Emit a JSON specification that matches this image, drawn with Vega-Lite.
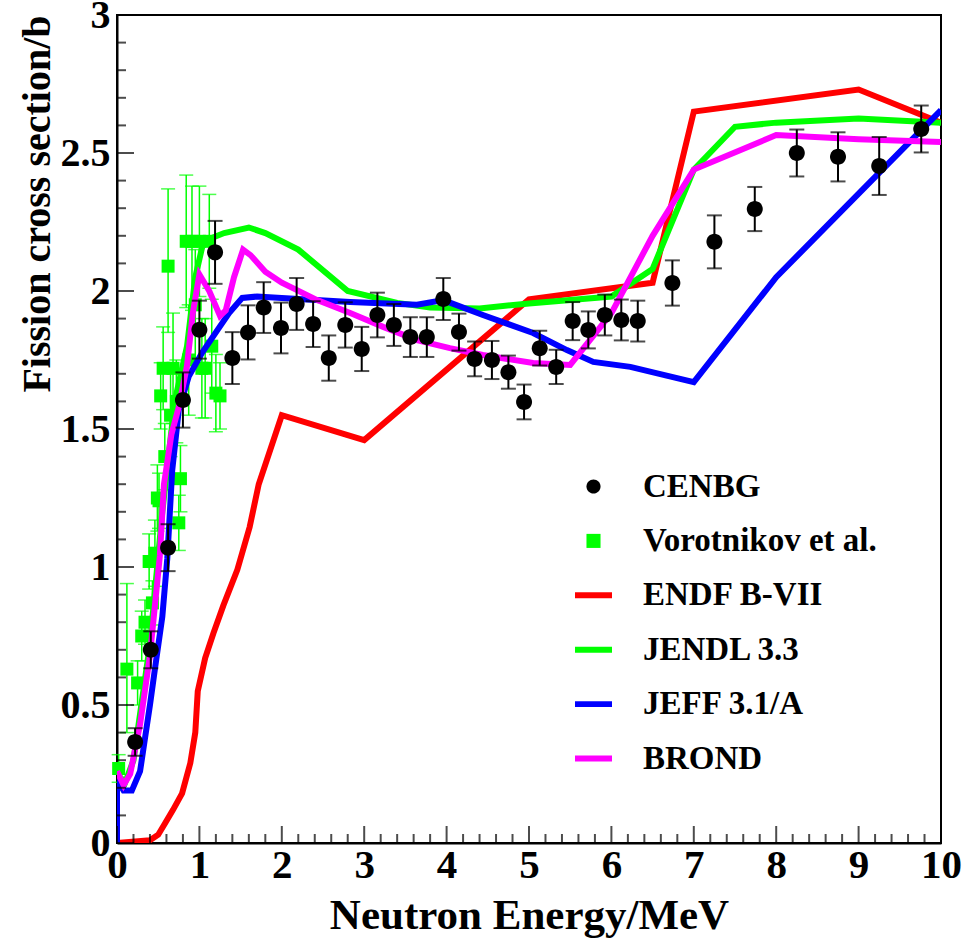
{
 "$schema": "https://vega.github.io/schema/vega-lite/v6.json",
 "width": 824, "height": 828,
 "autosize": {"type": "none"},
 "padding": {"left": 117, "top": 15, "right": 27, "bottom": 97},
 "background": "white",
 "config": {"view": {"stroke": "black", "strokeWidth": 2}, "font": "Liberation Serif"},
 "datasets": {
  "xmajor": [{"v":0},{"v":1},{"v":2},{"v":3},{"v":4},{"v":5},{"v":6},{"v":7},{"v":8},{"v":9},{"v":10}],
  "xminor": [{"v":0.2},{"v":0.4},{"v":0.6},{"v":0.8},{"v":1.2},{"v":1.4},{"v":1.6},{"v":1.8},{"v":2.2},{"v":2.4},{"v":2.6},{"v":2.8},{"v":3.2},{"v":3.4},{"v":3.6},{"v":3.8},{"v":4.2},{"v":4.4},{"v":4.6},{"v":4.8},{"v":5.2},{"v":5.4},{"v":5.6},{"v":5.8},{"v":6.2},{"v":6.4},{"v":6.6},{"v":6.8},{"v":7.2},{"v":7.4},{"v":7.6},{"v":7.8},{"v":8.2},{"v":8.4},{"v":8.6},{"v":8.8},{"v":9.2},{"v":9.4},{"v":9.6},{"v":9.8}],
  "ymajor": [{"v":0},{"v":0.5},{"v":1},{"v":1.5},{"v":2},{"v":2.5},{"v":3}],
  "yminor": [{"v":0.1},{"v":0.2},{"v":0.3},{"v":0.4},{"v":0.6},{"v":0.7},{"v":0.8},{"v":0.9},{"v":1.1},{"v":1.2},{"v":1.3},{"v":1.4},{"v":1.6},{"v":1.7},{"v":1.8},{"v":1.9},{"v":2.1},{"v":2.2},{"v":2.3},{"v":2.4},{"v":2.6},{"v":2.7},{"v":2.8},{"v":2.9}],
  "cenbg": [
   {"x":0.22,"y":0.366,"lo":0.316,"hi":0.416},
   {"x":0.41,"y":0.70,"lo":0.633,"hi":0.767},
   {"x":0.62,"y":1.07,"lo":0.985,"hi":1.155},
   {"x":0.80,"y":1.605,"lo":1.505,"hi":1.705},
   {"x":1.00,"y":1.86,"lo":1.755,"hi":1.965},
   {"x":1.19,"y":2.14,"lo":2.026,"hi":2.254},
   {"x":1.40,"y":1.757,"lo":1.663,"hi":1.851},
   {"x":1.59,"y":1.85,"lo":1.752,"hi":1.948},
   {"x":1.78,"y":1.94,"lo":1.848,"hi":2.032},
   {"x":1.99,"y":1.866,"lo":1.774,"hi":1.958},
   {"x":2.18,"y":1.953,"lo":1.859,"hi":2.047},
   {"x":2.38,"y":1.88,"lo":1.797,"hi":1.963},
   {"x":2.57,"y":1.757,"lo":1.675,"hi":1.839},
   {"x":2.77,"y":1.877,"lo":1.795,"hi":1.959},
   {"x":2.97,"y":1.79,"lo":1.71,"hi":1.87},
   {"x":3.16,"y":1.913,"lo":1.832,"hi":1.994},
   {"x":3.36,"y":1.877,"lo":1.801,"hi":1.953},
   {"x":3.56,"y":1.833,"lo":1.761,"hi":1.905},
   {"x":3.76,"y":1.833,"lo":1.761,"hi":1.905},
   {"x":3.96,"y":1.971,"lo":1.895,"hi":2.047},
   {"x":4.15,"y":1.851,"lo":1.784,"hi":1.918},
   {"x":4.34,"y":1.754,"lo":1.691,"hi":1.817},
   {"x":4.55,"y":1.75,"lo":1.681,"hi":1.819},
   {"x":4.75,"y":1.706,"lo":1.646,"hi":1.766},
   {"x":4.94,"y":1.598,"lo":1.535,"hi":1.661},
   {"x":5.13,"y":1.793,"lo":1.73,"hi":1.856},
   {"x":5.33,"y":1.725,"lo":1.663,"hi":1.787},
   {"x":5.53,"y":1.891,"lo":1.822,"hi":1.96},
   {"x":5.72,"y":1.859,"lo":1.792,"hi":1.926},
   {"x":5.92,"y":1.913,"lo":1.839,"hi":1.987},
   {"x":6.12,"y":1.895,"lo":1.821,"hi":1.969},
   {"x":6.32,"y":1.891,"lo":1.817,"hi":1.965},
   {"x":6.74,"y":2.029,"lo":1.947,"hi":2.111},
   {"x":7.25,"y":2.178,"lo":2.082,"hi":2.274},
   {"x":7.74,"y":2.297,"lo":2.217,"hi":2.377},
   {"x":8.25,"y":2.5,"lo":2.415,"hi":2.585},
   {"x":8.75,"y":2.486,"lo":2.397,"hi":2.575},
   {"x":9.25,"y":2.453,"lo":2.348,"hi":2.558},
   {"x":9.76,"y":2.587,"lo":2.502,"hi":2.672}
  ],
  "voro": [
   {"x":0.02,"y":0.27,"lo":0.22,"hi":0.32},
   {"x":0.12,"y":0.63,"lo":0.40,"hi":0.94},
   {"x":0.25,"y":0.58,"lo":0.50,"hi":0.66},
   {"x":0.30,"y":0.75,"lo":0.66,"hi":0.84},
   {"x":0.34,"y":0.80,"lo":0.72,"hi":0.88},
   {"x":0.39,"y":1.02,"lo":0.92,"hi":1.12},
   {"x":0.43,"y":0.87,"lo":0.79,"hi":0.95},
   {"x":0.46,"y":1.05,"lo":0.93,"hi":1.17},
   {"x":0.49,"y":1.25,"lo":1.13,"hi":1.37},
   {"x":0.51,"y":1.24,"lo":1.14,"hi":1.34},
   {"x":0.53,"y":1.62,"lo":1.50,"hi":1.74},
   {"x":0.56,"y":1.72,"lo":1.57,"hi":1.87},
   {"x":0.58,"y":1.40,"lo":1.28,"hi":1.52},
   {"x":0.62,"y":2.09,"lo":1.85,"hi":2.37},
   {"x":0.65,"y":1.55,"lo":1.40,"hi":1.70},
   {"x":0.68,"y":1.72,"lo":1.52,"hi":1.92},
   {"x":0.72,"y":1.60,"lo":1.45,"hi":1.75},
   {"x":0.75,"y":1.16,"lo":1.06,"hi":1.26},
   {"x":0.77,"y":1.32,"lo":1.20,"hi":1.44},
   {"x":0.84,"y":2.18,"lo":1.94,"hi":2.42},
   {"x":0.87,"y":1.75,"lo":1.55,"hi":1.95},
   {"x":0.91,"y":2.18,"lo":1.93,"hi":2.38},
   {"x":0.95,"y":1.95,"lo":1.75,"hi":2.15},
   {"x":1.00,"y":2.18,"lo":1.98,"hi":2.38},
   {"x":1.03,"y":1.72,"lo":1.54,"hi":1.90},
   {"x":1.07,"y":1.72,"lo":1.54,"hi":1.90},
   {"x":1.12,"y":2.18,"lo":2.01,"hi":2.35},
   {"x":1.15,"y":1.80,"lo":1.63,"hi":1.97},
   {"x":1.20,"y":1.63,"lo":1.49,"hi":1.77},
   {"x":1.25,"y":1.62,"lo":1.50,"hi":1.74}
  ],
  "curves": [
   {"s":"ENDF B-VII","i":0,"x":0,"y":0},
   {"s":"ENDF B-VII","i":1,"x":0.4,"y":0.01},
   {"s":"ENDF B-VII","i":2,"x":0.5,"y":0.03},
   {"s":"ENDF B-VII","i":3,"x":0.58,"y":0.07},
   {"s":"ENDF B-VII","i":4,"x":0.68,"y":0.12},
   {"s":"ENDF B-VII","i":5,"x":0.79,"y":0.18},
   {"s":"ENDF B-VII","i":6,"x":0.89,"y":0.29},
   {"s":"ENDF B-VII","i":7,"x":0.95,"y":0.40},
   {"s":"ENDF B-VII","i":8,"x":0.98,"y":0.55},
   {"s":"ENDF B-VII","i":9,"x":1.07,"y":0.67},
   {"s":"ENDF B-VII","i":10,"x":1.17,"y":0.76},
   {"s":"ENDF B-VII","i":11,"x":1.29,"y":0.86},
   {"s":"ENDF B-VII","i":12,"x":1.46,"y":0.99},
   {"s":"ENDF B-VII","i":13,"x":1.61,"y":1.145},
   {"s":"ENDF B-VII","i":14,"x":1.72,"y":1.30},
   {"s":"ENDF B-VII","i":15,"x":2.0,"y":1.55},
   {"s":"ENDF B-VII","i":16,"x":3.0,"y":1.46},
   {"s":"ENDF B-VII","i":17,"x":5.0,"y":1.97},
   {"s":"ENDF B-VII","i":18,"x":6.5,"y":2.03},
   {"s":"ENDF B-VII","i":19,"x":7.0,"y":2.65},
   {"s":"ENDF B-VII","i":20,"x":9.0,"y":2.73},
   {"s":"ENDF B-VII","i":21,"x":10.0,"y":2.61},
   {"s":"JENDL 3.3","i":0,"x":0,"y":0.25},
   {"s":"JENDL 3.3","i":1,"x":0.1,"y":0.22},
   {"s":"JENDL 3.3","i":2,"x":0.2,"y":0.30},
   {"s":"JENDL 3.3","i":3,"x":0.4,"y":0.72},
   {"s":"JENDL 3.3","i":4,"x":0.55,"y":1.2},
   {"s":"JENDL 3.3","i":5,"x":0.7,"y":1.6},
   {"s":"JENDL 3.3","i":6,"x":0.85,"y":1.8},
   {"s":"JENDL 3.3","i":7,"x":0.95,"y":2.05},
   {"s":"JENDL 3.3","i":8,"x":1.05,"y":2.18},
   {"s":"JENDL 3.3","i":9,"x":1.3,"y":2.21},
   {"s":"JENDL 3.3","i":10,"x":1.6,"y":2.23},
   {"s":"JENDL 3.3","i":11,"x":1.8,"y":2.21},
   {"s":"JENDL 3.3","i":12,"x":2.2,"y":2.15},
   {"s":"JENDL 3.3","i":13,"x":2.8,"y":2.0},
   {"s":"JENDL 3.3","i":14,"x":3.4,"y":1.957},
   {"s":"JENDL 3.3","i":15,"x":3.8,"y":1.94},
   {"s":"JENDL 3.3","i":16,"x":4.4,"y":1.937},
   {"s":"JENDL 3.3","i":17,"x":5.0,"y":1.955},
   {"s":"JENDL 3.3","i":18,"x":6.0,"y":1.98},
   {"s":"JENDL 3.3","i":19,"x":6.5,"y":2.08},
   {"s":"JENDL 3.3","i":20,"x":7.0,"y":2.44},
   {"s":"JENDL 3.3","i":21,"x":7.5,"y":2.595},
   {"s":"JENDL 3.3","i":22,"x":8.0,"y":2.61},
   {"s":"JENDL 3.3","i":23,"x":9.0,"y":2.625},
   {"s":"JENDL 3.3","i":24,"x":10.0,"y":2.61},
   {"s":"JEFF 3.1/A","i":0,"x":0,"y":0},
   {"s":"JEFF 3.1/A","i":1,"x":0.0,"y":0.23},
   {"s":"JEFF 3.1/A","i":2,"x":0.08,"y":0.19},
   {"s":"JEFF 3.1/A","i":3,"x":0.18,"y":0.19},
   {"s":"JEFF 3.1/A","i":4,"x":0.28,"y":0.26},
   {"s":"JEFF 3.1/A","i":5,"x":0.34,"y":0.38},
   {"s":"JEFF 3.1/A","i":6,"x":0.4,"y":0.5},
   {"s":"JEFF 3.1/A","i":7,"x":0.46,"y":0.63},
   {"s":"JEFF 3.1/A","i":8,"x":0.55,"y":0.82},
   {"s":"JEFF 3.1/A","i":9,"x":0.61,"y":1.03},
   {"s":"JEFF 3.1/A","i":10,"x":0.67,"y":1.35},
   {"s":"JEFF 3.1/A","i":11,"x":0.75,"y":1.57},
   {"s":"JEFF 3.1/A","i":12,"x":0.87,"y":1.69},
   {"s":"JEFF 3.1/A","i":13,"x":1.03,"y":1.775},
   {"s":"JEFF 3.1/A","i":14,"x":1.2,"y":1.85},
   {"s":"JEFF 3.1/A","i":15,"x":1.36,"y":1.92},
   {"s":"JEFF 3.1/A","i":16,"x":1.52,"y":1.975},
   {"s":"JEFF 3.1/A","i":17,"x":1.7,"y":1.98},
   {"s":"JEFF 3.1/A","i":18,"x":2.0,"y":1.975},
   {"s":"JEFF 3.1/A","i":19,"x":2.83,"y":1.96},
   {"s":"JEFF 3.1/A","i":20,"x":3.64,"y":1.95},
   {"s":"JEFF 3.1/A","i":21,"x":3.96,"y":1.967},
   {"s":"JEFF 3.1/A","i":22,"x":4.44,"y":1.913},
   {"s":"JEFF 3.1/A","i":23,"x":5.05,"y":1.848},
   {"s":"JEFF 3.1/A","i":24,"x":5.46,"y":1.786},
   {"s":"JEFF 3.1/A","i":25,"x":5.78,"y":1.743},
   {"s":"JEFF 3.1/A","i":26,"x":6.23,"y":1.725},
   {"s":"JEFF 3.1/A","i":27,"x":7.0,"y":1.67},
   {"s":"JEFF 3.1/A","i":28,"x":8.0,"y":2.05},
   {"s":"JEFF 3.1/A","i":29,"x":10.0,"y":2.655},
   {"s":"BROND","i":0,"x":0,"y":0.26},
   {"s":"BROND","i":1,"x":0.08,"y":0.21},
   {"s":"BROND","i":2,"x":0.16,"y":0.25},
   {"s":"BROND","i":3,"x":0.28,"y":0.43},
   {"s":"BROND","i":4,"x":0.4,"y":0.68},
   {"s":"BROND","i":5,"x":0.52,"y":1.04},
   {"s":"BROND","i":6,"x":0.57,"y":1.30},
   {"s":"BROND","i":7,"x":0.66,"y":1.48},
   {"s":"BROND","i":8,"x":0.75,"y":1.58},
   {"s":"BROND","i":9,"x":0.85,"y":1.73},
   {"s":"BROND","i":10,"x":0.92,"y":1.92},
   {"s":"BROND","i":11,"x":1.0,"y":2.06},
   {"s":"BROND","i":12,"x":1.12,"y":2.0},
   {"s":"BROND","i":13,"x":1.25,"y":1.91},
   {"s":"BROND","i":14,"x":1.32,"y":1.93},
   {"s":"BROND","i":15,"x":1.42,"y":2.05},
   {"s":"BROND","i":16,"x":1.53,"y":2.15},
   {"s":"BROND","i":17,"x":1.62,"y":2.13},
   {"s":"BROND","i":18,"x":1.8,"y":2.07},
   {"s":"BROND","i":19,"x":2.0,"y":2.03},
   {"s":"BROND","i":20,"x":2.43,"y":1.967},
   {"s":"BROND","i":21,"x":2.83,"y":1.92},
   {"s":"BROND","i":22,"x":3.23,"y":1.87},
   {"s":"BROND","i":23,"x":3.64,"y":1.822},
   {"s":"BROND","i":24,"x":4.04,"y":1.793},
   {"s":"BROND","i":25,"x":4.44,"y":1.768},
   {"s":"BROND","i":26,"x":5.05,"y":1.739},
   {"s":"BROND","i":27,"x":5.5,"y":1.732},
   {"s":"BROND","i":28,"x":6.0,"y":1.92},
   {"s":"BROND","i":29,"x":6.5,"y":2.2},
   {"s":"BROND","i":30,"x":7.0,"y":2.44},
   {"s":"BROND","i":31,"x":8.0,"y":2.565},
   {"s":"BROND","i":32,"x":9.0,"y":2.55},
   {"s":"BROND","i":33,"x":10.0,"y":2.54}
  ]
 },
 "encoding": {
  "x": {"type": "quantitative",
   "scale": {"domain": [0, 10], "nice": false, "zero": false},
   "axis": {
    "orient": "bottom",
    "values": [0,1,2,3,4,5,6,7,8,9,10],
    "format": "d",
    "ticks": false,
    "domainColor": "black", "domainWidth": 2,
    "labelFont": "Liberation Serif", "labelFontWeight": "bold", "labelFontSize": 41, "labelColor": "black",
    "labelPadding": 2, "labelFlush": false, "labelOverlap": false, "grid": false,
    "title": "Neutron Energy/MeV", "titleFont": "Liberation Serif", "titleFontSize": 43,
    "titleFontWeight": "bold", "titleColor": "black", "titlePadding": 9
   }
  },
  "y": {"type": "quantitative",
   "scale": {"domain": [0, 3], "nice": false, "zero": false},
   "axis": {
    "orient": "left",
    "values": [0,0.5,1,1.5,2,2.5,3],
    "format": "~g",
    "ticks": false,
    "domainColor": "black", "domainWidth": 2,
    "labelFont": "Liberation Serif", "labelFontWeight": "bold", "labelFontSize": 40, "labelColor": "black",
    "labelPadding": 7, "labelFlush": false, "labelOverlap": false, "grid": false,
    "title": "Fission cross section/b", "titleFont": "Liberation Serif", "titleFontSize": 40,
    "titleFontWeight": "bold", "titleColor": "black", "titleAnchor": "end", "titlePadding": 3
   }
  }
 },
 "layer": [
  {
   "data": {"name": "voro"},
   "mark": {"type": "rule", "color": "#00ff00", "strokeWidth": 1.5},
   "encoding": {"x": {"field": "x"}, "y": {"field": "lo"}, "y2": {"field": "hi"}}
  },
  {
   "data": {"name": "voro"},
   "mark": {"type": "tick", "orient": "horizontal", "color": "#00ff00", "thickness": 1.5, "size": 14},
   "encoding": {"x": {"field": "x"}, "y": {"field": "lo"}}
  },
  {
   "data": {"name": "voro"},
   "mark": {"type": "tick", "orient": "horizontal", "color": "#00ff00", "thickness": 1.5, "size": 14},
   "encoding": {"x": {"field": "x"}, "y": {"field": "hi"}}
  },
  {
   "data": {"name": "voro"},
   "mark": {"type": "point", "filled": true, "size": 1170, "opacity": 1},
   "encoding": {
    "x": {"field": "x"},
    "y": {"field": "y"},
    "color": {"datum": "Vorotnikov et al.",
     "scale": {"domain": ["CENBG", "Vorotnikov et al.", "ENDF B-VII", "JENDL 3.3", "JEFF 3.1/A", "BROND"],
               "range": ["#000000", "#00ff00", "#ff0000", "#00ff00", "#0000ff", "#ff00ff"]},
     "legend": {
      "title": null, "orient": "none", "legendX": 458, "legendY": 453,
      "labelFont": "Liberation Serif", "labelFontWeight": "bold", "labelFontSize": 33, "labelColor": "black",
      "labelLimit": 0, "symbolSize": 1369, "labelOffset": 31, "rowPadding": 18.4, "padding": 0,
      "symbolStrokeWidth": 0, "symbolOpacity": 1
     }
    },
    "shape": {"datum": "Vorotnikov et al.",
     "scale": {"domain": ["CENBG", "Vorotnikov et al.", "ENDF B-VII", "JENDL 3.3", "JEFF 3.1/A", "BROND"],
               "range": ["M0.38,0A0.38,0.38 0 1,1 -0.38,0A0.38,0.38 0 1,1 0.38,0Z", "M-0.38,-0.38H0.38V0.38H-0.38Z", "M-1,-0.16H1V0.16H-1Z", "M-1,-0.16H1V0.16H-1Z", "M-1,-0.16H1V0.16H-1Z", "M-1,-0.16H1V0.16H-1Z"]},
     "legend": {
      "title": null, "orient": "none", "legendX": 458, "legendY": 453,
      "labelFont": "Liberation Serif", "labelFontWeight": "bold", "labelFontSize": 33, "labelColor": "black",
      "labelLimit": 0, "symbolSize": 1369, "labelOffset": 31, "rowPadding": 18.4, "padding": 0,
      "symbolStrokeWidth": 0, "symbolOpacity": 1
     }
    }
   }
  },
  {
   "data": {"name": "curves"},
   "transform": [{"filter": "datum.s === 'ENDF B-VII'"}],
   "mark": {"type": "line", "strokeWidth": 6, "clip": true},
   "encoding": {"x": {"field": "x"}, "y": {"field": "y"}, "color": {"datum": "ENDF B-VII"}, "order": {"field": "i", "type": "quantitative"}}
  },
  {
   "data": {"name": "curves"},
   "transform": [{"filter": "datum.s === 'JENDL 3.3'"}],
   "mark": {"type": "line", "strokeWidth": 6, "clip": true},
   "encoding": {"x": {"field": "x"}, "y": {"field": "y"}, "color": {"datum": "JENDL 3.3"}, "order": {"field": "i", "type": "quantitative"}}
  },
  {
   "data": {"name": "curves"},
   "transform": [{"filter": "datum.s === 'JEFF 3.1/A'"}],
   "mark": {"type": "line", "strokeWidth": 6, "clip": true},
   "encoding": {"x": {"field": "x"}, "y": {"field": "y"}, "color": {"datum": "JEFF 3.1/A"}, "order": {"field": "i", "type": "quantitative"}}
  },
  {
   "data": {"name": "curves"},
   "transform": [{"filter": "datum.s === 'BROND'"}],
   "mark": {"type": "line", "strokeWidth": 6, "clip": true},
   "encoding": {"x": {"field": "x"}, "y": {"field": "y"}, "color": {"datum": "BROND"}, "order": {"field": "i", "type": "quantitative"}}
  },
  {
   "data": {"name": "cenbg"},
   "mark": {"type": "rule", "color": "black", "strokeWidth": 2},
   "encoding": {"x": {"field": "x"}, "y": {"field": "lo"}, "y2": {"field": "hi"}}
  },
  {
   "data": {"name": "cenbg"},
   "mark": {"type": "tick", "orient": "horizontal", "color": "black", "thickness": 2, "size": 15},
   "encoding": {"x": {"field": "x"}, "y": {"field": "lo"}}
  },
  {
   "data": {"name": "cenbg"},
   "mark": {"type": "tick", "orient": "horizontal", "color": "black", "thickness": 2, "size": 15},
   "encoding": {"x": {"field": "x"}, "y": {"field": "hi"}}
  },
  {
   "data": {"name": "cenbg"},
   "mark": {"type": "point", "filled": true, "size": 1773, "opacity": 1},
   "encoding": {"x": {"field": "x"}, "y": {"field": "y"}, "color": {"datum": "CENBG"}, "shape": {"datum": "CENBG"}}
  },
  {
   "data": {"name": "xmajor"},
   "mark": {"type": "tick", "orient": "vertical", "color": "black", "thickness": 2, "size": 17, "yOffset": -8.5},
   "encoding": {"x": {"field": "v"}, "y": {"datum": 0}}
  },
  {
   "data": {"name": "xminor"},
   "mark": {"type": "tick", "orient": "vertical", "color": "black", "thickness": 2, "size": 9, "yOffset": -4.5},
   "encoding": {"x": {"field": "v"}, "y": {"datum": 0}}
  },
  {
   "data": {"name": "ymajor"},
   "mark": {"type": "tick", "orient": "horizontal", "color": "black", "thickness": 2, "size": 17, "xOffset": 8.5},
   "encoding": {"y": {"field": "v"}, "x": {"datum": 0}}
  },
  {
   "data": {"name": "yminor"},
   "mark": {"type": "tick", "orient": "horizontal", "color": "black", "thickness": 2, "size": 9, "xOffset": 4.5},
   "encoding": {"y": {"field": "v"}, "x": {"datum": 0}}
  }
 ]
}
